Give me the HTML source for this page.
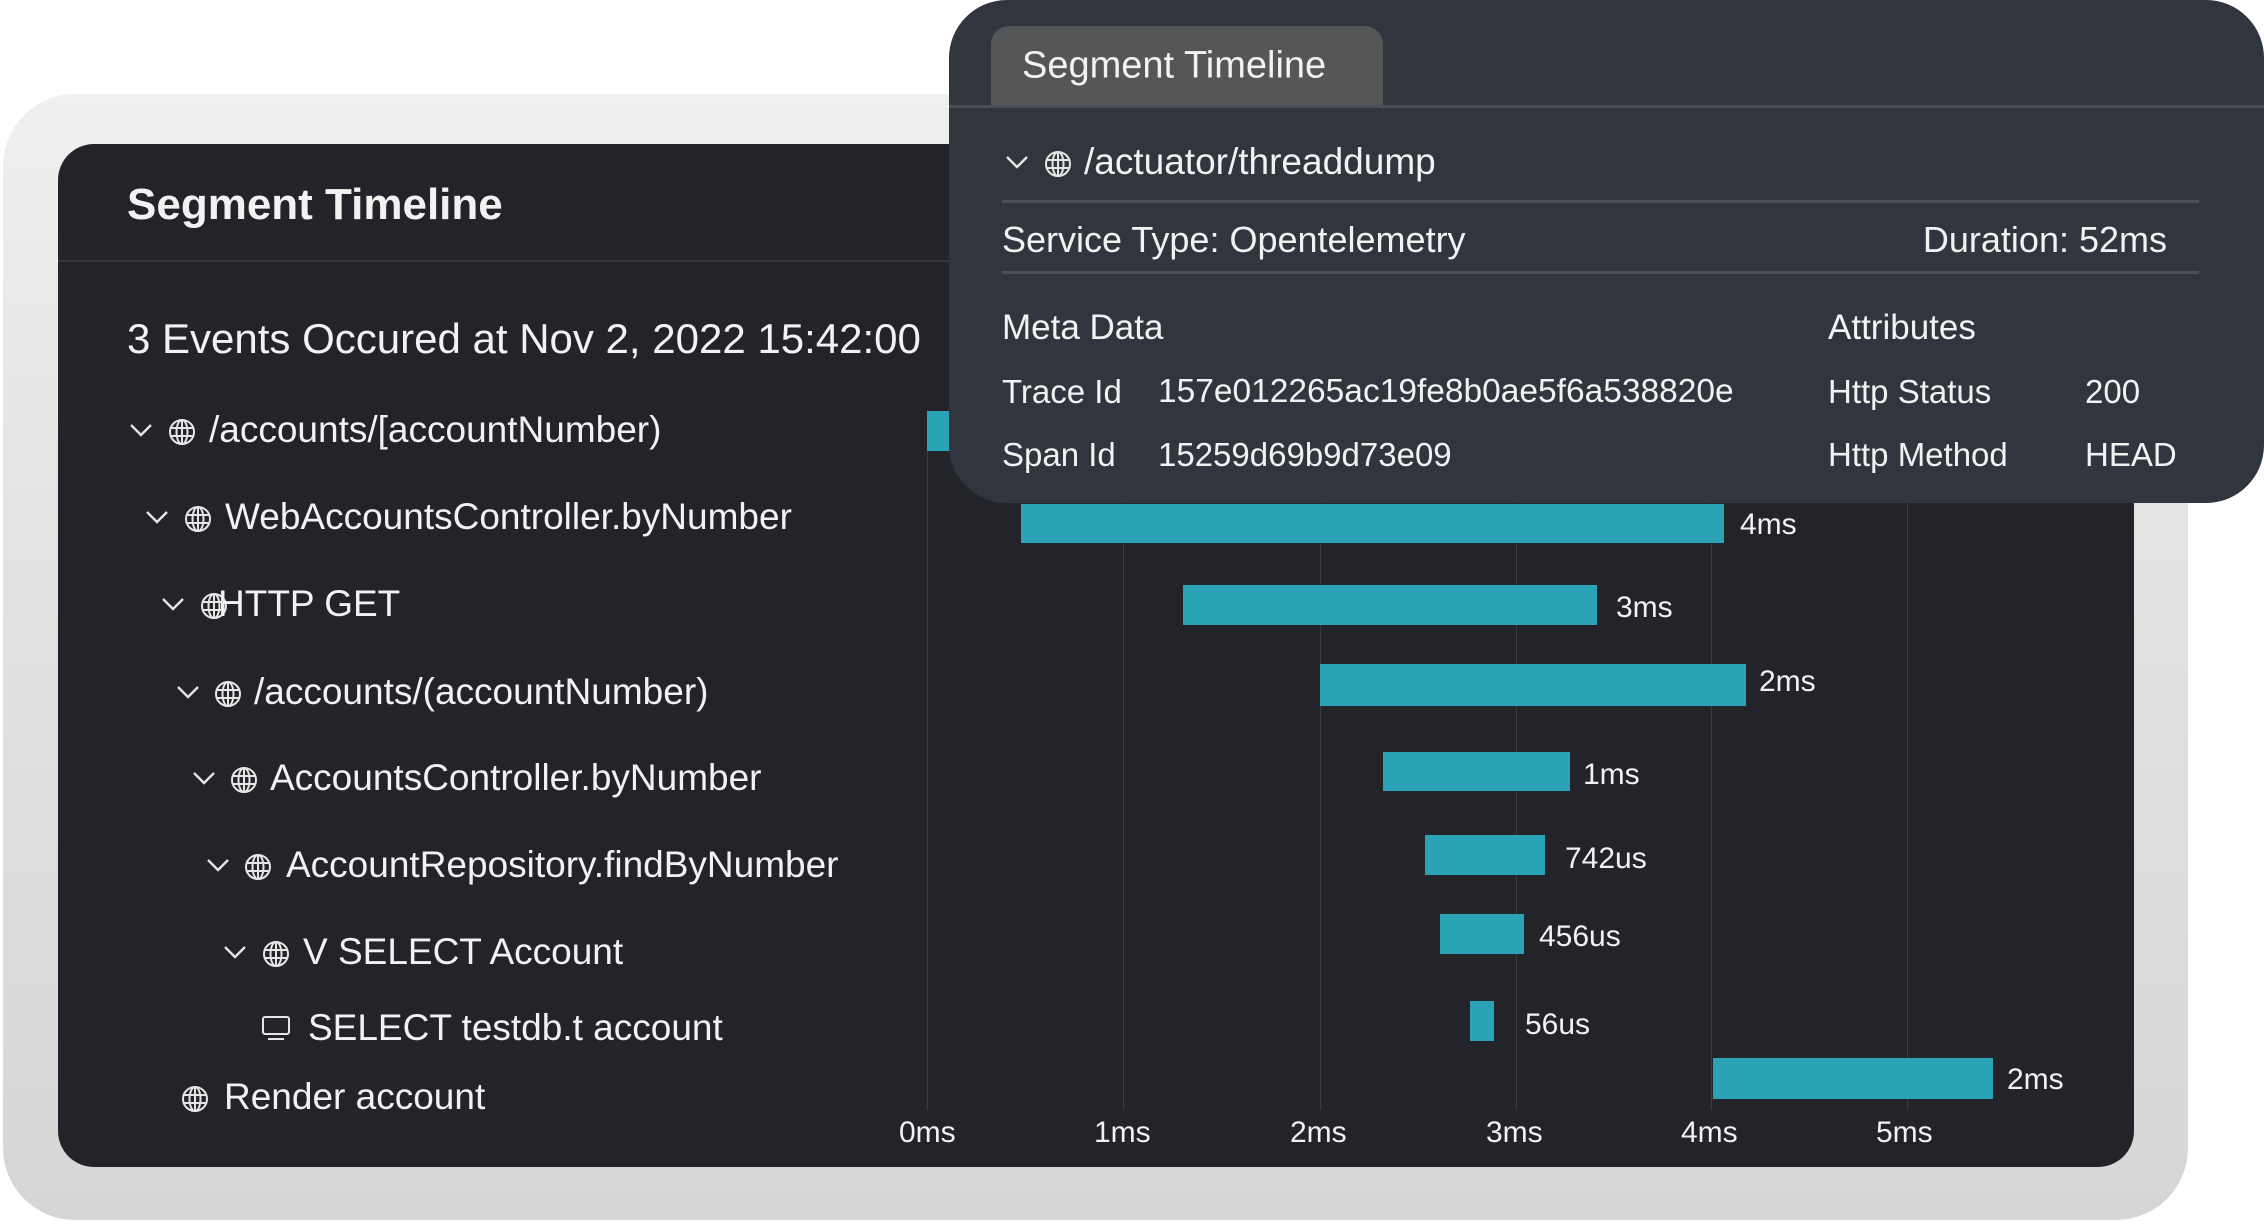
<!DOCTYPE html>
<html><head><meta charset="utf-8"><style>
*{margin:0;padding:0;box-sizing:border-box}
body{width:2264px;height:1225px;background:#fff;position:relative;overflow:hidden;font-family:"Liberation Sans",sans-serif;color:#f2f2f2}
.a{position:absolute;white-space:nowrap}
.outer{left:3px;top:94px;width:2185px;height:1126px;border-radius:72px;background:linear-gradient(180deg,#eef1ee 0%,#e2e3e2 40%,#d6d6d6 100%)}
.panel{left:58px;top:144px;width:2076px;height:1023px;border-radius:36px;background:#232429}
.t{font-size:37px;transform:translateY(-50%)}
.g{position:absolute;width:1px;background:#3a3c42;top:410px;height:700px}
.bar{position:absolute;background:#29a3b5}
.lab{font-size:30px;transform:translateY(-50%)}
.pop{left:949px;top:0;width:1315px;height:503px;border-radius:58px;background:#31353d}
.sep{position:absolute;height:3px;background:#4c5058}
.p{font-size:35px;transform:translateY(-50%)}
svg.i{position:absolute;overflow:visible}
</style></head><body>
<svg width="0" height="0" style="position:absolute"><defs>
<g id="gl" fill="none" stroke="#e6e6e6" stroke-width="2"><circle cx="0" cy="0" r="12"/><ellipse cx="0" cy="0" rx="5.5" ry="12"/><line x1="-12" y1="-4" x2="12" y2="-4"/><line x1="-12" y1="4" x2="12" y2="4"/><line x1="0" y1="-12" x2="0" y2="12"/></g>
<g id="ch" fill="none" stroke="#e6e6e6" stroke-width="2.4"><polyline points="-10,-5 0,5 10,-5"/></g>
</defs></svg>
<div class="a outer"></div>
<div class="a panel"></div>
<div class="a" style="left:127px;top:205px;font-size:44px;font-weight:bold;transform:translateY(-50%)">Segment Timeline</div>
<div class="a" style="left:58px;top:260px;width:2076px;height:2px;background:#34363b"></div>
<div class="a" style="left:127px;top:339px;font-size:42px;transform:translateY(-50%)">3 Events Occured at Nov 2, 2022 15:42:00</div>

<div class="g" style="left:927px"></div><div class="g" style="left:1123px"></div><div class="g" style="left:1320px"></div><div class="g" style="left:1516px"></div><div class="g" style="left:1711px"></div><div class="g" style="left:1907px"></div>

<svg class="i" width="2264" height="1225" style="left:0;top:0">
<use href="#ch" x="141" y="430"/><use href="#gl" x="182" y="432"/>
<use href="#ch" x="157" y="517"/><use href="#gl" x="198" y="519"/>
<use href="#ch" x="173" y="604"/><use href="#gl" x="214" y="606"/>
<use href="#ch" x="188" y="692"/><use href="#gl" x="228" y="694"/>
<use href="#ch" x="204" y="778"/><use href="#gl" x="244" y="780"/>
<use href="#ch" x="218" y="865"/><use href="#gl" x="258" y="867"/>
<use href="#ch" x="235" y="952"/><use href="#gl" x="276" y="954"/>
<g fill="none" stroke="#e6e6e6" stroke-width="2"><rect x="263" y="1017" width="26" height="17" rx="2"/><line x1="268" y1="1039" x2="284" y2="1039"/></g>
<use href="#gl" x="195" y="1099"/>
</svg>

<div class="a t" style="left:209px;top:430px">/accounts/[accountNumber)</div>
<div class="a t" style="left:225px;top:517px">WebAccountsController.byNumber</div>
<div class="a t" style="left:218px;top:604px">HTTP GET</div>
<div class="a t" style="left:254px;top:692px">/accounts/(accountNumber)</div>
<div class="a t" style="left:270px;top:778px">AccountsController.byNumber</div>
<div class="a t" style="left:286px;top:865px">AccountRepository.findByNumber</div>
<div class="a t" style="left:303px;top:952px">V SELECT Account</div>
<div class="a t" style="left:308px;top:1028px">SELECT testdb.t account</div>
<div class="a t" style="left:224px;top:1097px">Render account</div>

<div class="bar" style="left:927px;top:411px;width:600px;height:40px"></div>
<div class="bar" style="left:1021px;top:504px;width:703px;height:39px"></div>
<div class="a lab" style="left:1740px;top:525px">4ms</div>
<div class="bar" style="left:1183px;top:585px;width:414px;height:40px"></div>
<div class="a lab" style="left:1616px;top:608px">3ms</div>
<div class="bar" style="left:1320px;top:664px;width:426px;height:42px"></div>
<div class="a lab" style="left:1759px;top:682px">2ms</div>
<div class="bar" style="left:1383px;top:752px;width:187px;height:39px"></div>
<div class="a lab" style="left:1583px;top:775px">1ms</div>
<div class="bar" style="left:1425px;top:835px;width:120px;height:40px"></div>
<div class="a lab" style="left:1565px;top:859px">742us</div>
<div class="bar" style="left:1440px;top:914px;width:84px;height:40px"></div>
<div class="a lab" style="left:1539px;top:937px">456us</div>
<div class="bar" style="left:1470px;top:1001px;width:24px;height:40px"></div>
<div class="a lab" style="left:1525px;top:1025px">56us</div>
<div class="bar" style="left:1713px;top:1058px;width:280px;height:41px"></div>
<div class="a lab" style="left:2007px;top:1080px">2ms</div>

<div class="a lab" style="left:899px;top:1133px">0ms</div>
<div class="a lab" style="left:1094px;top:1133px">1ms</div>
<div class="a lab" style="left:1290px;top:1133px">2ms</div>
<div class="a lab" style="left:1486px;top:1133px">3ms</div>
<div class="a lab" style="left:1681px;top:1133px">4ms</div>
<div class="a lab" style="left:1876px;top:1133px">5ms</div>

<div class="a pop"></div>
<div class="a" style="left:991px;top:26px;width:392px;height:80px;background:#555657;border-radius:18px 18px 0 0"></div>
<div class="a p" style="left:1022px;top:66px;font-size:38px">Segment Timeline</div>
<div class="a" style="left:949px;top:105px;width:1315px;height:3px;background:#4a4e56"></div>
<svg class="i" width="200" height="60" style="left:0;top:0"></svg>
<svg class="i" width="2264" height="300" style="left:0;top:0"><use href="#ch" x="1017" y="162"/><use href="#gl" x="1058" y="164"/></svg>
<div class="a p" style="left:1084px;top:162px;font-size:37px">/actuator/threaddump</div>
<div class="sep" style="left:1002px;top:200px;width:1197px"></div>
<div class="a p" style="left:1002px;top:240px;font-size:36px">Service Type: Opentelemetry</div>
<div class="a p" style="right:97px;top:240px;font-size:36px">Duration: 52ms</div>
<div class="sep" style="left:1002px;top:271px;width:1197px"></div>
<div class="a p" style="left:1002px;top:328px">Meta Data</div>
<div class="a p" style="left:1828px;top:328px">Attributes</div>
<div class="a p" style="left:1002px;top:392px;font-size:33px">Trace Id</div>
<div class="a p" style="left:1158px;top:392px;font-size:33.5px">157e012265ac19fe8b0ae5f6a538820e</div>
<div class="a p" style="left:1828px;top:392px;font-size:33px">Http Status</div>
<div class="a p" style="left:2085px;top:392px;font-size:33px">200</div>
<div class="a p" style="left:1002px;top:455px;font-size:33px">Span Id</div>
<div class="a p" style="left:1158px;top:455px;font-size:33px">15259d69b9d73e09</div>
<div class="a p" style="left:1828px;top:455px;font-size:33px">Http Method</div>
<div class="a p" style="left:2085px;top:455px;font-size:33px">HEAD</div>
</body></html>
